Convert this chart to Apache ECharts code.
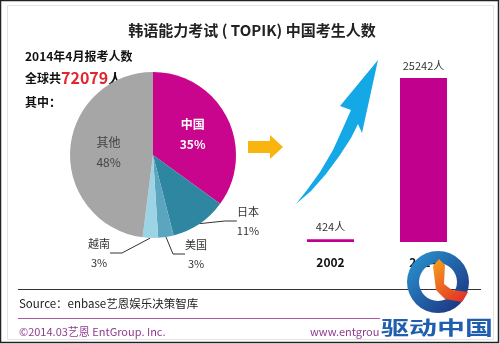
<!DOCTYPE html>
<html>
<head>
<meta charset="utf-8">
<script src="https://cdn.jsdelivr.net/npm/echarts@6/dist/echarts.min.js"></script>
<style>html,body{margin:0;padding:0;background:#fff}#c{width:500px;height:344px}</style>
</head>
<body>
<div id="c"></div>
<script>
// ---- data ----
var pieNames = ['中国', '日本', '美国', '越南', '其他'];
var pieValues = [35, 11, 3, 3, 48];
var pieColors = ['#C8058C', '#2E86A1', '#5BA6BE', '#9DD4E5', '#A6A6A6'];
var barCategories = ['2002', '2014'];
var barValues = [424, 25242];
var totalExaminees = '72079';

var FONT = "'Noto Sans CJK SC', 'Noto Sans', sans-serif";
var chart = echarts.init(document.getElementById('c'), null, {renderer: 'canvas'});

var pieData = pieNames.map(function (n, i) {
  var d = {name: n, value: pieValues[i], itemStyle: {color: pieColors[i]}};
  if (i === 0) {
    d.label = {position: 'inside', color: '#fff', fontWeight: 'bold', fontSize: 12, lineHeight: 20};
    d.labelLine = {show: false};
  } else if (i === 4) {
    d.label = {position: 'inside', color: '#444', fontSize: 12, lineHeight: 20};
    d.labelLine = {show: false};
  }
  return d;
});

// label anchor positions for the outside labels
var labelPos = {1: [248, 221], 2: [196, 254], 3: [99, 253]};

var option = {
  animation: false,
  textStyle: {fontFamily: FONT},
  grid: {left: 284, width: 186, top: 47, bottom: 102},
  xAxis: {
    type: 'category', data: barCategories,
    axisLine: {show: false}, axisTick: {show: false},
    axisLabel: {color: '#111', fontWeight: 'bold', fontSize: 12, margin: 14, fontFamily: FONT}
  },
  yAxis: {type: 'value', min: 0, max: 30000, show: false, splitLine: {show: false}},
  series: [
    {
      type: 'pie',
      center: [153, 155],
      radius: 83,
      startAngle: 90,
      clockwise: true,
      silent: true,
      data: pieData,
      label: {
        show: true, position: 'outside', color: '#333', fontSize: 11, lineHeight: 19,
        fontFamily: FONT, align: 'center',
        formatter: function (p) { return p.name + '\n' + p.value + '%'; }
      },
      labelLine: {show: true, length: 14, length2: 12, lineStyle: {color: '#333', width: 1}},
      labelLayout: function (p) {
        var pos = labelPos[p.dataIndex];
        if (!pos) return {};
        return {x: pos[0], y: pos[1], align: 'center', verticalAlign: 'middle'};
      }
    },
    {
      type: 'bar',
      data: barValues,
      barWidth: 47,
      itemStyle: {color: '#C2008E'},
      label: {
        show: true, position: 'top', distance: 7, color: '#333', fontSize: 11,
        fontFamily: FONT, formatter: '{c}人'
      }
    }
  ],
  graphic: [
    // outer frame
    {type: 'rect', shape: {x: 0.5, y: 0.5, width: 498, height: 342}, style: {fill: 'none', stroke: '#222', lineWidth: 1.5}, z: 100},
    {type: 'rect', shape: {x: 7.5, y: 5.5, width: 486, height: 334}, style: {fill: 'none', stroke: '#E4E4E4', lineWidth: 1}, z: 99},
    // title
    {type: 'text', x: 252, y: 30, style: {text: '韩语能力考试 ( TOPIK) 中国考生人数', font: 'bold 15px ' + FONT, fill: '#222', align: 'center', verticalAlign: 'middle'}},
    {type: 'text', x: 25, y: 56, style: {text: '2014年4月报考人数', font: 'bold 12px ' + FONT, fill: '#111', verticalAlign: 'middle'}},
    {type: 'text', x: 25, y: 78, style: {
      text: '{a|全球共}{b|' + totalExaminees + '}{c|人}', verticalAlign: 'middle',
      rich: {a: {font: 'bold 12px ' + FONT, fill: '#111'}, b: {font: 'bold 16px ' + FONT, fill: '#E3262E'}, c: {font: 'bold 14px ' + FONT, fill: '#111'}}
    }},
    {type: 'text', x: 25, y: 102, style: {text: '其中：', font: 'bold 12px ' + FONT, fill: '#111', verticalAlign: 'middle'}},
    // orange arrow
    {type: 'polygon', shape: {points: [[248, 141], [270, 141], [270, 135], [283, 147], [270, 159], [270, 153], [248, 153]]}, style: {fill: '#F9B40F'}},
    // blue curved arrow
    {type: 'polygon', shape: {points: [[378, 60], [340, 106], [351, 110], [343, 128], [333, 150], [320, 172], [307, 190], [296, 204],
      [311, 191], [326, 174], [340, 155], [351, 138], [358, 124], [362, 133]]}, style: {fill: '#14A8E6'}},
    // footer
    {type: 'line', shape: {x1: 18, y1: 289.5, x2: 481, y2: 289.5}, style: {stroke: '#333', lineWidth: 1}},
    {type: 'text', x: 19, y: 304, style: {text: 'Source：enbase艺恩娱乐决策智库', font: '11.5px ' + FONT, fill: '#222', verticalAlign: 'middle'}},
    {type: 'line', shape: {x1: 18, y1: 318.5, x2: 481, y2: 318.5}, style: {stroke: '#B355A6', lineWidth: 1}},
    {type: 'text', x: 19, y: 332, style: {text: '©2014.03艺恩 EntGroup. Inc.', font: '11px ' + FONT, fill: '#8E3C8E', verticalAlign: 'middle'}},
    {type: 'text', x: 310, y: 332, style: {text: 'www.entgroup.cn', font: '11px ' + FONT, fill: '#8E3C8E', verticalAlign: 'middle'}},
    // watermark logo
    {type: 'ring', z: 50, shape: {cx: 438, cy: 282, r: 31, r0: 19}, style: {
      fill: new echarts.graphic.LinearGradient(0, 0, 1, 1, [{offset: 0, color: '#2A9AD6'}, {offset: 1, color: '#1B2A78'}])
    }},
    {type: 'polygon', z: 51, shape: {points: [[433, 266], [439, 259], [445, 265], [444, 284], [452, 290], [468, 292], [462, 302], [445, 299], [436, 290]]}, style: {
      fill: new echarts.graphic.LinearGradient(0, 0, 1, 1, [{offset: 0, color: '#F7A21B'}, {offset: 1, color: '#E02828'}])
    }},
    {type: 'rect', z: 50, shape: {x: 380, y: 316, width: 116, height: 24}, style: {fill: '#fff'}},
    {type: 'text', z: 52, x: 381, y: 328, scaleY: 0.7, style: {text: '驱动中国', font: 'bold 28px ' + FONT, fill: '#1F5FAE', verticalAlign: 'middle'}}
  ]
};
chart.setOption(option);
</script>
</body>
</html>
